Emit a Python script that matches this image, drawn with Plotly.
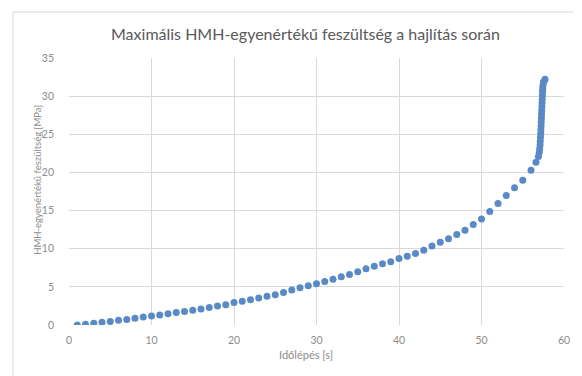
import plotly.graph_objects as go

# Data
time_steps = [1, 2, 3, 4, 5, 6, 7, 8, 9, 10, 11, 12, 13, 14, 15, 16, 17, 18, 19, 20,
              21, 22, 23, 24, 25, 26, 27, 28, 29, 30, 31, 32, 33, 34, 35, 36, 37, 38, 39, 40,
              41, 42, 43, 44, 45, 46, 47, 48, 49, 50, 51, 52, 53, 54, 55, 56,
              56.6, 56.9, 57.0, 57.05, 57.1, 57.12, 57.15, 57.18, 57.2, 57.22, 57.24, 57.26,
              57.28, 57.3, 57.32, 57.34, 57.36, 57.38, 57.4, 57.42, 57.45, 57.5, 57.6, 57.7]
stress = [0.0, 0.11, 0.24, 0.37, 0.46, 0.61, 0.72, 0.88, 1.05, 1.18, 1.32, 1.46, 1.63, 1.77, 1.93, 2.1, 2.3, 2.48, 2.64, 2.95,
          3.12, 3.32, 3.54, 3.76, 3.98, 4.25, 4.6, 4.87, 5.15, 5.4, 5.7, 6.01, 6.31, 6.62, 6.97, 7.36, 7.71, 8.02, 8.3, 8.72,
          9.02, 9.37, 9.81, 10.35, 10.86, 11.29, 11.86, 12.43, 13.17, 13.91, 14.88, 15.92, 16.97, 17.98, 18.98, 20.29,
          21.34, 22.1, 22.6, 23.1, 23.6, 24.1, 24.6, 25.1, 25.6, 26.1, 26.6, 27.1,
          27.6, 28.1, 28.6, 29.1, 29.6, 30.1, 30.6, 31.0, 31.4, 31.8, 32.0, 32.2]

x_ticks = [0, 10, 20, 30, 40, 50, 60]
y_ticks = [0, 5, 10, 15, 20, 25, 30, 35]

title_text = "Maximális HMH-egyenértékű feszültség a hajlítás során"
x_title = "Időlépés [s]"
y_title = "HMH-egyenértékű feszültség [MPa]"

# The page body has an 8px default margin; compensate for it.
OFF = 8
W, H = 582 - OFF, 376 - OFF
PL, PR, PT, PB = 69, 564, 58, 325.5   # target plot area in window pixels
L, T = PL - OFF, PT - OFF
R = (OFF + W) - PR
B = (OFF + H) - PB
pw, ph = PR - PL, PB - PT

def px_x(p):
    return (p - PL) / pw

def px_y(p):
    return (PB - p) / ph

font_family = "Lato, 'Open Sans', sans-serif"

fig = go.Figure()
fig.add_trace(go.Scatter(
    x=time_steps, y=stress, mode="markers",
    marker=dict(size=7, color="#5a8ac6", line=dict(width=0)),
    showlegend=False,
))

axis_common = dict(
    showgrid=True, gridcolor="#d9d9d9", gridwidth=1,
    zeroline=False, showline=False, ticks="",
    tickfont=dict(family=font_family, size=10.5, color="#8c8c8c"),
    fixedrange=True,
)

fig.update_layout(
    width=W, height=H,
    margin=dict(l=L, r=R, t=T, b=B, pad=0),
    paper_bgcolor="white", plot_bgcolor="white",
    xaxis=dict(range=[0, 60], tickvals=x_ticks, ticktext=[str(v) for v in x_ticks],
               ticklabelstandoff=7, **axis_common),
    yaxis=dict(range=[0, 35], tickvals=y_ticks, ticktext=[str(v) for v in y_ticks],
               ticklabelstandoff=14, **axis_common),
    annotations=[
        dict(text=title_text, x=px_x(305), y=px_y(33), xref="paper", yref="paper",
             xanchor="center", yanchor="middle", showarrow=False,
             font=dict(family=font_family, size=16, color="#595959")),
        dict(text=x_title, x=px_x(306), y=px_y(355), xref="paper", yref="paper",
             xanchor="center", yanchor="middle", showarrow=False,
             font=dict(family=font_family, size=11, color="#8c8c8c")),
        dict(text=y_title, x=px_x(38), y=px_y(180), xref="paper", yref="paper",
             xanchor="center", yanchor="middle", showarrow=False, textangle=-90,
             font=dict(family=font_family, size=9.5, color="#8c8c8c")),
    ],
    shapes=[
        dict(type="rect", xref="paper", yref="paper",
             x0=px_x(13), x1=px_x(580), y0=px_y(385), y1=px_y(12),
             line=dict(color="#d9d9d9", width=1), layer="below"),
    ],
)

fig.write_html("out.html")
